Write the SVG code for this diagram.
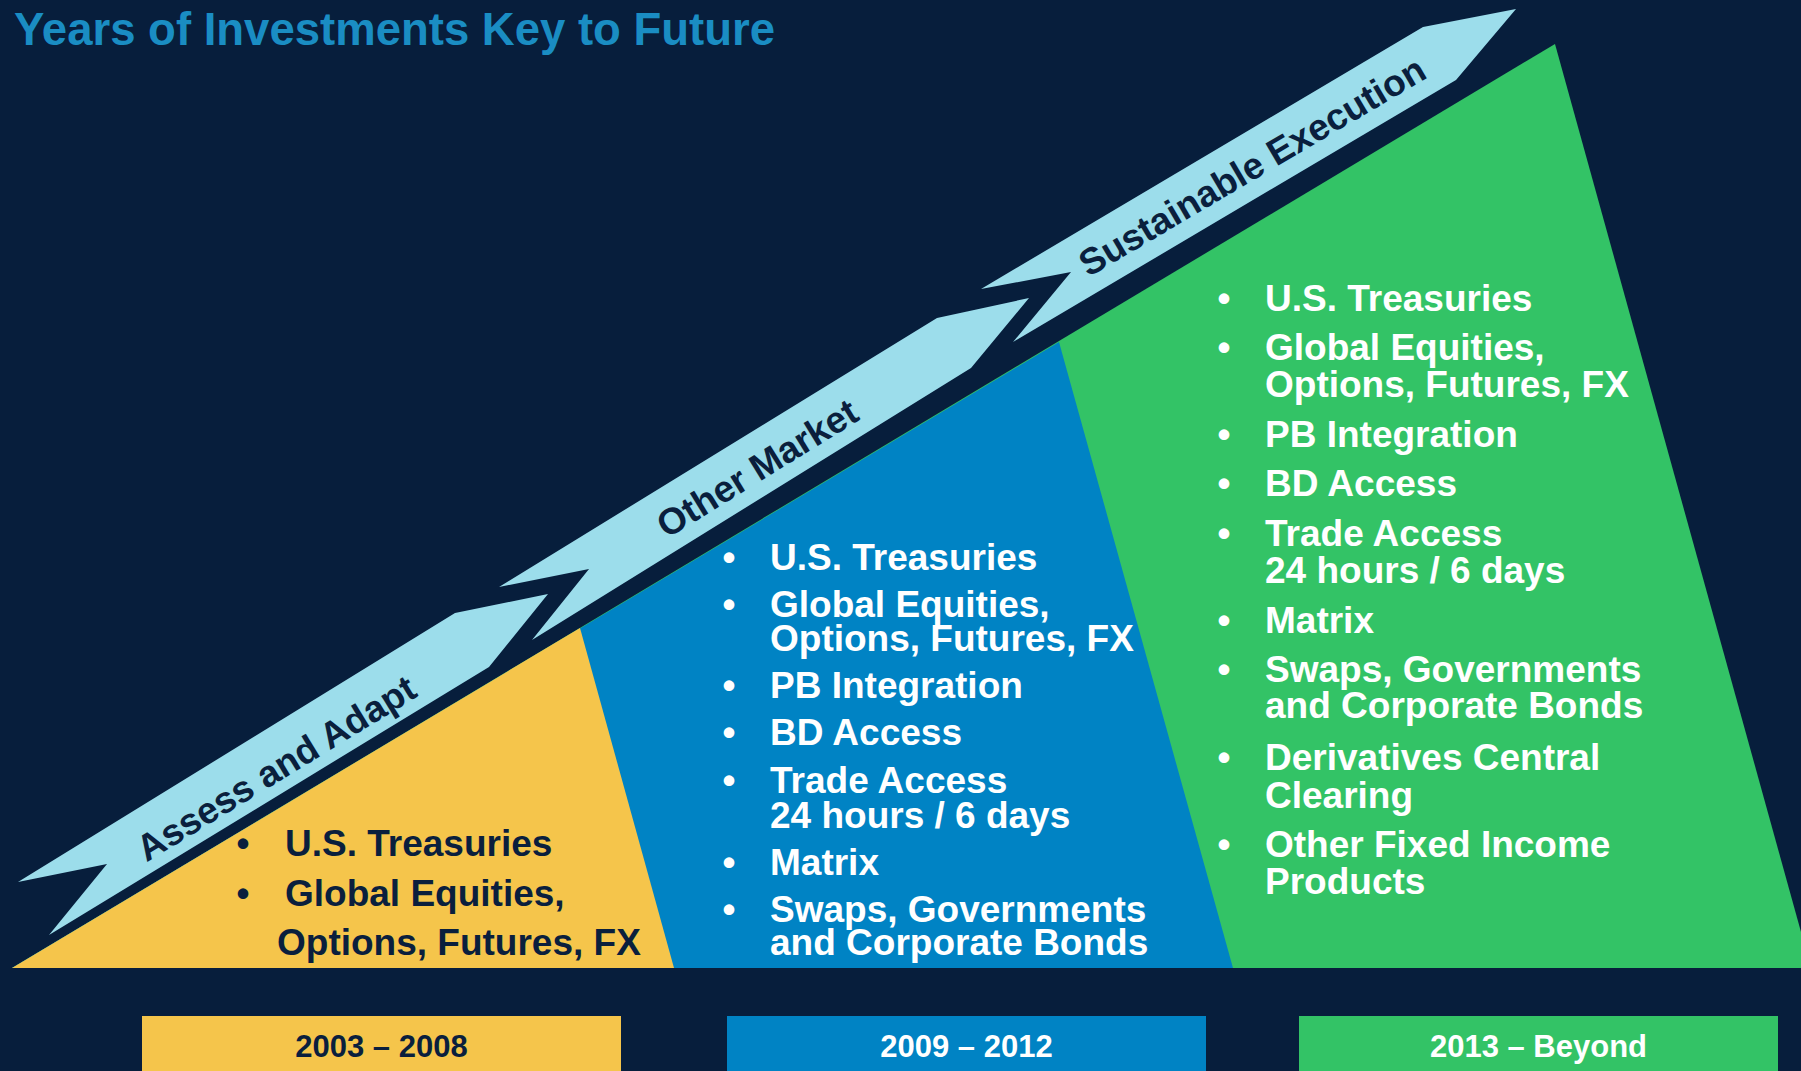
<svg xmlns="http://www.w3.org/2000/svg" width="1801" height="1071" viewBox="0 0 1801 1071">
  <style>
    .bg { fill: #071E3C; }
    .title { font-family: "Liberation Sans", Arial, sans-serif; font-weight: bold; font-size: 45.5px; fill: #1A8DC3; }
    .band { fill: #9CDDEB; }
    .bandtxt { font-family: "Liberation Sans", Arial, sans-serif; font-weight: bold; font-size: 37px; fill: #0A1F3D; }
    .item { font-family: "Liberation Sans", Arial, sans-serif; font-weight: bold; font-size: 37px; }
    .dark { fill: #0A1F3D; }
    .light { fill: #FFFFFF; }
    .yellow { fill: #F5C54B; }
    .blue { fill: #0083C4; }
    .green { fill: #33C366; }
    .year { font-family: "Liberation Sans", Arial, sans-serif; font-weight: bold; font-size: 31px; text-anchor: middle; }
  </style>

  <rect class="bg" x="0" y="0" width="1801" height="1071"/>

  <text class="title" x="14" y="45">Years of Investments Key to Future</text>

  <!-- stacked stage areas -->
  <g id="stage-2013">
    <polygon class="green" points="12,968 1555,44 1801,932 1801,968"/>
  </g>
  <g id="stage-2009">
    <polygon class="blue" points="12,968 1059,342 1233,968"/>
  </g>
  <g id="stage-2003">
    <polygon class="yellow" points="12,968 580,628 674,968"/>
  </g>

  <!-- rising banner segments -->
  <g id="connectors">
    <g id="band-assess">
      <polygon class="band" points="18,882 455,613 548,594 489,667 49,935 107,864"/>
      <text class="bandtxt" transform="translate(276,768) rotate(-31.5)" x="0" y="13" text-anchor="middle">Assess and Adapt</text>
    </g>
    <g id="band-other">
      <polygon class="band" points="499,587 937,318 1029,298 971,368 532,640 589,569"/>
      <text class="bandtxt" transform="translate(757,468) rotate(-31.7)" x="0" y="13" text-anchor="middle">Other Market</text>
    </g>
    <g id="band-sustain">
      <polygon class="band" points="981,289 1423,27 1516,9 1456,80 1013,342 1071,272"/>
      <text class="bandtxt" transform="translate(1252,166) rotate(-30.5)" x="0" y="13" text-anchor="middle">Sustainable Execution</text>
    </g>
  </g>

  <!-- 2003-2008 list -->
  <g id="list-2003" class="item dark">
    <text x="236.5" y="856">•</text>
    <text x="285" y="856">U.S. Treasuries</text>
    <text x="236.5" y="906">•</text>
    <text x="285" y="906">Global Equities,</text>
    <text x="277" y="955">Options, Futures, FX</text>
  </g>

  <!-- 2009-2012 list -->
  <g id="list-2009" class="item light">
    <text x="722.5" y="570">•</text>
    <text x="770" y="570">U.S. Treasuries</text>
    <text x="722.5" y="617">•</text>
    <text x="770" y="617">Global Equities,</text>
    <text x="770" y="651">Options, Futures, FX</text>
    <text x="722.5" y="698">•</text>
    <text x="770" y="698">PB Integration</text>
    <text x="722.5" y="745">•</text>
    <text x="770" y="745">BD Access</text>
    <text x="722.5" y="793">•</text>
    <text x="770" y="793">Trade Access</text>
    <text x="770" y="828">24 hours / 6 days</text>
    <text x="722.5" y="875">•</text>
    <text x="770" y="875">Matrix</text>
    <text x="722.5" y="922">•</text>
    <text x="770" y="922">Swaps, Governments</text>
    <text x="770" y="955">and Corporate Bonds</text>
  </g>

  <!-- 2013 onward list -->
  <g id="list-2013" class="item light">
    <text x="1217.5" y="311">•</text>
    <text x="1265" y="311">U.S. Treasuries</text>
    <text x="1217.5" y="360">•</text>
    <text x="1265" y="360">Global Equities,</text>
    <text x="1265" y="397">Options, Futures, FX</text>
    <text x="1217.5" y="447">•</text>
    <text x="1265" y="447">PB Integration</text>
    <text x="1217.5" y="496">•</text>
    <text x="1265" y="496">BD Access</text>
    <text x="1217.5" y="546">•</text>
    <text x="1265" y="546">Trade Access</text>
    <text x="1265" y="583">24 hours / 6 days</text>
    <text x="1217.5" y="633">•</text>
    <text x="1265" y="633">Matrix</text>
    <text x="1217.5" y="682">•</text>
    <text x="1265" y="682">Swaps, Governments</text>
    <text x="1265" y="718">and Corporate Bonds</text>
    <text x="1217.5" y="770">•</text>
    <text x="1265" y="770">Derivatives Central</text>
    <text x="1265" y="808">Clearing</text>
    <text x="1217.5" y="857">•</text>
    <text x="1265" y="857">Other Fixed Income</text>
    <text x="1265" y="894">Products</text>
  </g>

  <!-- period labels -->
  <g id="period-2003">
    <rect class="yellow" x="142" y="1016" width="479" height="55"/>
    <text class="year dark" x="381.5" y="1057">2003 – 2008</text>
  </g>
  <g id="period-2009">
    <rect class="blue" x="727" y="1016" width="479" height="55"/>
    <text class="year light" x="966.5" y="1057">2009 – 2012</text>
  </g>
  <g id="period-2013">
    <rect class="green" x="1299" y="1016" width="479" height="55"/>
    <text class="year light" x="1538.5" y="1057">2013 – Beyond</text>
  </g>
</svg>
